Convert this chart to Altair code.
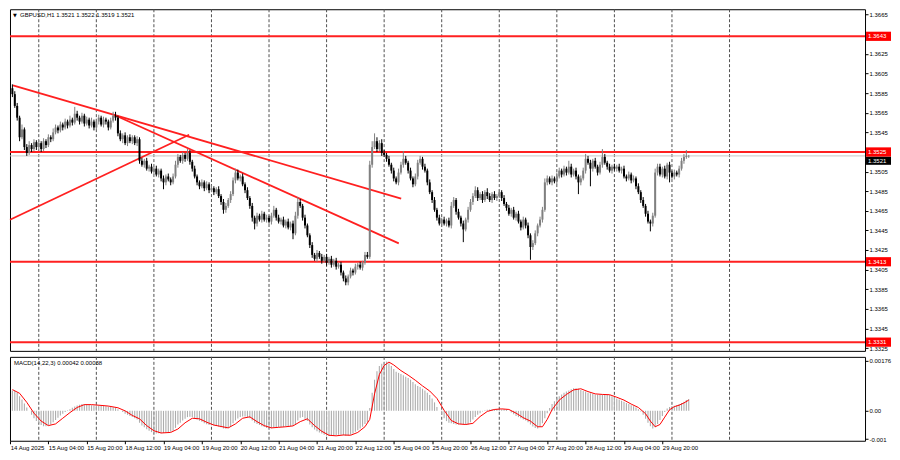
import altair as alt
import numpy as np
import pandas as pd

# ---------------- data ----------------
first_open = 13590  # pips (x 1e-4)
closes = [
    13584,13572,13560,13540,13548,13530,13524,13532,13528,13535,
    13530,13534,13528,13536,13532,13540,13538,13545,13550,13547,
    13553,13550,13556,13552,13558,13555,13564,13560,13556,13562,
    13554,13558,13552,13556,13550,13556,13560,13553,13558,13556,
    13550,13557,13562,13560,13544,13538,13542,13534,13540,13536,
    13540,13534,13538,13516,13512,13516,13508,13510,13505,13508,
    13502,13506,13498,13494,13500,13497,13494,13500,13512,13520,
    13516,13522,13518,13524,13515,13508,13500,13494,13490,13494,
    13488,13492,13486,13488,13484,13487,13480,13474,13466,13470,
    13476,13482,13496,13504,13498,13500,13492,13486,13478,13470,
    13458,13452,13460,13456,13462,13456,13458,13454,13460,13466,
    13458,13454,13456,13450,13454,13448,13452,13442,13460,13474,
    13470,13458,13450,13440,13430,13420,13416,13422,13418,13414,
    13418,13412,13416,13410,13414,13408,13410,13402,13396,13392,
    13398,13404,13402,13408,13410,13407,13412,13420,13418,13512,
    13530,13536,13528,13534,13524,13522,13518,13512,13506,13498,
    13494,13504,13512,13518,13514,13506,13498,13492,13500,13514,
    13518,13510,13506,13494,13484,13476,13466,13458,13452,13456,
    13452,13455,13450,13470,13476,13464,13458,13452,13446,13456,
    13466,13474,13480,13486,13478,13482,13476,13484,13480,13476,
    13482,13478,13480,13484,13478,13472,13468,13462,13466,13458,
    13462,13454,13448,13456,13450,13440,13428,13432,13442,13450,
    13456,13466,13494,13498,13494,13498,13495,13500,13506,13502,
    13508,13504,13510,13502,13506,13500,13494,13498,13506,13518,
    13514,13508,13516,13510,13504,13512,13520,13514,13510,13506,
    13510,13508,13510,13506,13508,13500,13498,13502,13496,13498,
    13490,13484,13476,13470,13462,13454,13452,13460,13504,13510,
    13502,13508,13500,13512,13504,13500,13504,13502,13508,13516,
    13520,13521,13521,
]
up_wick = [
    4,3,3,2,5,2,3,4,2,3,2,3,2,3,2,3,2,4,3,2,
    3,2,3,2,4,2,7,3,2,3,2,3,2,4,2,3,3,2,3,2,
    2,3,4,4,2,3,2,3,2,3,2,2,3,2,3,2,3,2,3,2,
    3,2,2,3,2,3,2,3,4,3,2,3,2,4,3,2,3,2,2,3,
    2,3,2,3,2,2,3,2,3,3,2,3,3,4,3,2,3,2,3,2,
    3,2,3,2,3,2,3,2,3,4,2,3,2,3,2,3,2,3,4,5,
    3,2,3,2,2,3,2,3,2,3,2,3,2,3,2,3,2,3,2,3,
    2,3,2,3,2,3,2,3,3,4,6,8,4,3,4,3,2,3,2,3,
    2,4,3,8,3,2,3,2,3,3,3,2,3,2,3,2,3,2,3,2,
    3,2,3,4,3,2,3,2,3,2,3,3,3,4,3,2,3,2,4,3,
    2,3,2,3,2,3,2,3,2,3,2,3,2,3,2,3,2,3,3,2,
    3,3,4,3,2,3,2,4,3,2,3,2,6,3,2,3,2,3,3,5,
    3,3,2,3,2,3,8,3,2,3,2,3,2,3,2,3,2,3,2,3,
    2,3,2,3,2,3,2,3,4,3,3,2,3,2,3,2,3,2,3,3,
    3,6,1,
]
dn_wick = [
    3,2,3,4,2,3,3,2,3,2,3,2,3,2,3,2,3,2,2,3,
    2,3,2,3,2,3,2,3,3,2,3,2,3,2,3,2,3,2,3,3,
    3,2,2,3,3,2,4,2,3,2,3,2,3,3,2,3,2,3,2,3,
    2,3,3,7,3,2,3,2,2,3,2,3,3,2,3,3,2,3,3,2,
    3,2,3,2,3,2,2,3,4,3,2,3,2,3,2,3,2,3,2,3,
    4,6,3,2,3,2,3,2,3,2,3,2,3,2,3,2,3,6,2,3,
    2,3,3,2,3,3,2,3,2,3,2,3,2,3,2,3,2,3,3,3,
    3,2,3,2,3,2,3,2,2,2,3,2,3,2,3,2,3,2,3,3,
    2,3,2,3,2,3,2,3,2,3,2,3,2,3,2,3,2,3,2,3,
    2,3,2,3,2,3,2,3,13,2,3,2,3,2,3,2,3,2,3,2,
    3,2,3,2,3,2,3,2,3,2,3,2,3,2,3,3,13,3,2,3,
    2,3,2,3,2,3,2,3,2,3,2,3,2,3,2,3,12,3,2,3,
    2,18,3,2,3,2,3,2,3,2,3,2,3,2,3,2,3,2,3,2,
    3,2,3,2,3,2,8,3,2,3,2,3,2,3,10,2,3,2,3,2,
    3,2,2,
]
macd_main = [  # x 1e-5
    72,70,64,52,40,26,12,0,-14,-26,
    -36,-44,-50,-54,-54,-52,-48,-40,-32,-24,
    -16,-10,-4,2,6,11,15,19,22,24,
    24,23,22,20,19,19,20,18,17,16,
    15,14,13,12,6,0,-4,-10,-14,-18,
    -22,-26,-30,-42,-52,-58,-65,-70,-75,-78,
    -80,-79,-79,-78,-77,-76,-74,-70,-60,-48,
    -42,-34,-28,-22,-21,-22,-26,-30,-35,-38,
    -44,-47,-50,-51,-52,-53,-55,-58,-62,-63,
    -60,-54,-44,-34,-27,-22,-20,-20,-22,-26,
    -34,-42,-46,-50,-54,-57,-60,-62,-61,-58,
    -57,-58,-57,-56,-55,-54,-53,-52,-46,-34,
    -24,-22,-28,-36,-48,-58,-66,-72,-76,-80,
    -84,-88,-89,-89,-88,-86,-84,-84,-86,-88,
    -87,-84,-80,-74,-68,-62,-56,-46,-40,10,
    64,110,140,158,166,172,174,168,158,148,
    138,134,130,126,120,116,110,102,94,88,
    84,78,72,64,56,44,30,14,0,-14,
    -26,-36,-42,-44,-46,-48,-48,-47,-48,-50,
    -48,-40,-30,-22,-14,-8,-2,2,4,5,
    6,6,7,7,6,6,4,0,-6,-12,
    -18,-22,-26,-30,-34,-40,-48,-55,-60,-62,
    -56,-44,-26,-8,10,24,34,44,52,58,
    64,68,72,76,80,80,78,74,70,68,
    64,62,60,58,57,57,58,58,57,56,
    52,48,44,40,36,32,28,24,20,16,
    12,6,-2,-14,-28,-42,-54,-62,-58,-46,
    -32,-18,-4,8,14,16,18,20,24,28,
    32,38,42,
]
sig_idx = [0,3,6,9,12,15,18,21,24,27,30,33,36,40,44,47,50,53,56,59,
           62,66,69,72,75,78,81,84,87,90,93,96,99,102,105,108,111,114,117,120,
           123,126,129,132,135,138,141,144,147,149,151,153,155,157,159,162,165,168,171,174,
           177,180,183,186,189,192,195,198,201,204,207,210,213,216,219,221,223,225,228,231,
           234,237,240,243,246,249,252,255,258,261,264,266,268,270,272,274,276,278,280,282]
sig_val = [75,62,30,-8,-36,-52,-46,-26,-6,12,22,22,20,17,11,0,-16,-28,-52,-70,
           -78,-76,-64,-42,-26,-28,-40,-50,-55,-60,-46,-26,-21,-38,-52,-60,-58,-56,-53,-38,
           -28,-52,-72,-86,-88,-85,-86,-76,-56,-30,60,128,160,172,162,142,126,108,88,70,
           44,2,-34,-46,-48,-44,-20,-2,5,7,5,-8,-24,-36,-56,-56,-30,4,38,58,
           74,78,68,60,58,57,48,38,24,12,-10,-36,-56,-48,-22,4,15,20,28,38]

levels = [1.3643, 1.3525, 1.3413, 1.3331]
bid = 1.3521
price_ticks = [1.3325, 1.3345, 1.3365, 1.3385, 1.3405, 1.3425, 1.3445, 1.3465, 1.3485,
               1.3505, 1.3545, 1.3565, 1.3585, 1.3605, 1.3625, 1.3665]
trend_x1 = [0.24, 42.3, -1.0]
trend_p1 = [1.3593, 1.3563, 1.34558]
trend_x2 = [162.1, 161.1, 73.7]
trend_p2 = [1.34774, 1.34317, 1.35426]
label_idx = [-0.9, 15, 31, 47, 63, 79, 95, 111, 127, 143, 159, 175, 191, 207, 223, 239, 255, 271]
label_txt = ["14 Aug 2025", "15 Aug 04:00", "15 Aug 20:00", "18 Aug 12:00", "19 Aug 04:00",
             "19 Aug 20:00", "20 Aug 12:00", "21 Aug 04:00", "21 Aug 20:00", "22 Aug 12:00",
             "25 Aug 04:00", "25 Aug 20:00", "26 Aug 12:00", "27 Aug 04:00", "27 Aug 20:00",
             "28 Aug 12:00", "29 Aug 04:00", "29 Aug 20:00"]
grid_idx = [11, 35, 59, 83, 107, 131, 155, 179, 203, 227, 251, 275, 299]
title_txt = "GBPUSD,H1  1.3521 1.3522 1.3519 1.3521"
macd_txt = "MACD(14,22,3) 0.00042 0.00038"

n = len(closes)
assert len(up_wick) == n and len(dn_wick) == n and len(macd_main) == n
assert len(sig_idx) == len(sig_val)

# ---------------- tables ----------------
opens = np.array([first_open] + closes[:-1])
cl = np.array(closes)
top = np.maximum(opens, cl)
bot = np.minimum(opens, cl)
df = pd.DataFrame({
    "i": np.arange(n),
    "o": opens / 1e4,
    "c": cl / 1e4,
    "hi": (top + np.array(up_wick)) / 1e4,
    "lo": (bot - np.array(dn_wick)) / 1e4,
    "top": top / 1e4,
    "bot": np.where(top == bot, bot - 0.4, bot) / 1e4,
    "dir": np.where(cl >= opens, "up", "down"),
})
dm = pd.DataFrame({"i": np.arange(n), "m": np.array(macd_main) / 1e5, "z": 0.0})
ds = pd.DataFrame({"i": sig_idx, "s": np.array(sig_val) / 1e5})
dt = pd.DataFrame({"x1": trend_x1, "p1": trend_p1, "x2": trend_x2, "p2": trend_p2})
BOX = 0.00047  # half height of a price label box, in price units
dl = pd.DataFrame({"p": levels})
dl["lab"] = [f"{v:.4f}" for v in levels]
dl["a"] = dl["p"] - BOX
dl["b"] = dl["p"] + BOX
# the bid label is stacked just under the 1.3525 label, as MT4 does
bid_anchor = 1.3525 - BOX
db = pd.DataFrame({"p": [bid], "lab": [f"{bid:.4f}"],
                   "a": [bid_anchor - 2 * BOX + 0.0001], "b": [bid_anchor],
                   "m": [bid_anchor - BOX + 0.00005]})
dg = pd.DataFrame({"g": grid_idx})

W = 856
H1 = 342
H2 = 84
FONT = "Liberation Sans"
FS = 6
xdom = [-1, 355.5]
pdom = [1.33221, 1.36706]
mdom = [-0.001054, 0.001905]

xs = alt.Scale(domain=xdom, nice=False, zero=False)
ps = alt.Scale(domain=pdom, nice=False, zero=False)
ms = alt.Scale(domain=mdom, nice=False, zero=False)
col = alt.Color("dir:N", scale=alt.Scale(domain=["up", "down"], range=["#808080", "#000000"]), legend=None)

price_axis = alt.Axis(orient="right", values=price_ticks, labelExpr="format(datum.value, '.4f')",
                      domain=False, ticks=True, tickSize=3, tickColor="#000", labelFontSize=FS,
                      labelFont=FONT, labelColor="#000", grid=False, title=None, labelPadding=1,
                      labelOverlap=False, labelFlush=False, labelBound=False)

def PY(field):
    return alt.Y(field, scale=ps, axis=price_axis)

def PX(field):
    return alt.X(field, scale=xs, axis=None)

grid = alt.Chart(dg).mark_rule(color="#505050", strokeWidth=1, strokeDash=[3, 2]).encode(
    x=PX("g:Q"))
wicks = alt.Chart(df).mark_rule(strokeWidth=1).encode(
    x=PX("i:Q"), y=PY("lo:Q"), y2="hi:Q", color=col)
bodies = alt.Chart(df).mark_rule(strokeWidth=2).encode(
    x=PX("i:Q"), y=PY("bot:Q"), y2="top:Q", color=col)
bidline = alt.Chart(db).mark_rule(color="#c8c8c8", strokeWidth=1).encode(y=PY("p:Q"))
hlines = alt.Chart(dl).mark_rule(color="#ff2020", strokeWidth=2).encode(y=PY("p:Q"))
trends = alt.Chart(dt).mark_rule(color="#ff2020", strokeWidth=1.8).encode(
    x=PX("x1:Q"), x2="x2:Q", y=PY("p1:Q"), y2="p2:Q")

bid_box = alt.Chart(db).mark_rect(color="#000000").encode(
    x=alt.value(W + 1), x2=alt.value(W + 26), y=PY("a:Q"), y2="b:Q")
bid_txt = alt.Chart(db).mark_text(align="left", baseline="middle", color="white",
                                   font=FONT, fontSize=FS).encode(
    x=alt.value(W + 3), y=PY("m:Q"), text="lab:N")
lv_box = alt.Chart(dl).mark_rect(color="#ff0000").encode(
    x=alt.value(W + 1), x2=alt.value(W + 26), y=PY("a:Q"), y2="b:Q")
lv_txt = alt.Chart(dl).mark_text(align="left", baseline="middle", color="white",
                                  font=FONT, fontSize=FS).encode(
    x=alt.value(W + 3), y=PY("p:Q"), text="lab:N")

tri = alt.Chart(pd.DataFrame({"t": ["\u25bc"]})).mark_text(
    align="left", baseline="middle", font="DejaVu Sans", fontSize=5, color="#000").encode(
    x=alt.value(3), y=alt.value(6), text="t:N")
ttl = alt.Chart(pd.DataFrame({"t": [title_txt]})).mark_text(
    align="left", baseline="middle", font=FONT, fontSize=FS, color="#000").encode(
    x=alt.value(10), y=alt.value(6), text="t:N")

price = alt.layer(grid, bidline, hlines, trends, wicks, bodies, bid_box, bid_txt, lv_box, lv_txt,
                  tri, ttl).properties(width=W, height=H1)

lab_arr = "[" + ",".join(f"'{t}'" for t in label_txt) + "]"
idx_arr = "[" + ",".join(str(v) for v in label_idx) + "]"
x_axis = alt.Axis(orient="bottom", values=label_idx, labelExpr=f"{lab_arr}[indexof({idx_arr}, datum.value)]",
                  labelAlign="left", tickSize=3, tickColor="#000", labelPadding=1, domain=False,
                  grid=False, labelFontSize=FS, labelFont=FONT, labelColor="#000", title=None,
                  labelOverlap=False, labelFlush=False, labelBound=False)
m_axis = alt.Axis(orient="right", values=[0.00176, 0.0, -0.001],
                  labelExpr="datum.value > 0.0015 ? '0.00176' : (datum.value > -0.0005 ? '0.00' : '-0.001')",
                  domain=False, ticks=True, tickSize=3, tickColor="#000", labelFontSize=FS,
                  labelFont=FONT, labelColor="#000", grid=False, title=None, labelPadding=1,
                  labelOverlap=False, labelFlush=False, labelBound=False)

def MX(field):
    return alt.X(field, scale=xs, axis=x_axis)

def MY(field):
    return alt.Y(field, scale=ms, axis=m_axis)

mgrid = alt.Chart(dg).mark_rule(color="#505050", strokeWidth=1, strokeDash=[3, 2]).encode(
    x=MX("g:Q"))
hist = alt.Chart(dm).mark_rule(color="#adadad", strokeWidth=1.1).encode(
    x=MX("i:Q"), y=MY("z:Q"), y2="m:Q")
sig = alt.Chart(ds).mark_line(color="#ff0000", strokeWidth=1).encode(
    x=MX("i:Q"), y=MY("s:Q"))
mtxt = alt.Chart(pd.DataFrame({"t": [macd_txt]})).mark_text(
    align="left", baseline="middle", font=FONT, fontSize=FS, color="#000").encode(
    x=alt.value(4), y=alt.value(6), text="t:N")

macd = alt.layer(mgrid, hist, sig, mtxt).properties(width=W, height=H2)

chart = alt.vconcat(price, macd, spacing=4).properties(padding=0, background="white").configure_view(
    stroke="#000000", strokeWidth=1)

chart.save("out.html", embed_options={"renderer": "svg", "actions": False})
